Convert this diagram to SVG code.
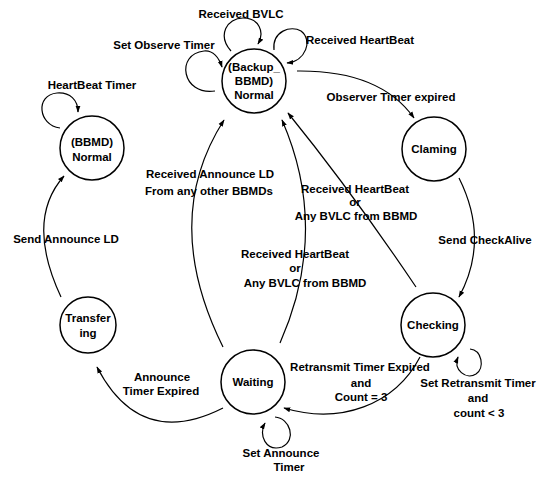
<svg xmlns="http://www.w3.org/2000/svg" width="551" height="477" viewBox="0 0 551 477">
<style>
.n{fill:#fff;stroke:#000;stroke-width:1.5}
.e{fill:none;stroke:#000;stroke-width:1.2;marker-end:url(#a)}
text{font-family:"Liberation Sans",Arial,sans-serif;font-weight:bold;font-size:11.5px;fill:#000;text-anchor:middle}
</style>
<defs>
<marker id="a" viewBox="0 0 10 10" refX="9" refY="5" markerWidth="7" markerHeight="7" markerUnits="userSpaceOnUse" orient="auto">
<path d="M0,1.5 L10,5 L0,8.5 z" fill="#000"/>
</marker>
</defs>
<rect width="551" height="477" fill="#fff"/>
<g id="connectors">
<path class="e" d="M60,128 C38,125 35,95 57,93 C70,92 78,100 78,112"/>
<path class="e" d="M215,91 C182,96 175,54 204,51 C213,50 219,58 222,67"/>
<path class="e" d="M231,51 C217,35 227,18 243,18 C259,18 265,32 258,44"/>
<path class="e" d="M274,50 C272,31 291,25 301,31 C313,40 306,61 287,63"/>
<path class="e" d="M297,71 Q380,70 414,118"/>
<path class="e" d="M459,178 Q490,240 459,297"/>
<path class="e" d="M416,287 Q352,192 288,113"/>
<path class="e" d="M280,343 Q330,230 282,120"/>
<path class="e" d="M223,347 Q160,220 224,120"/>
<path class="e" d="M61,297 Q25,220 64,176"/>
<path class="e" d="M223,408 Q140,450 97,367"/>
<path class="e" d="M420,357 C395,405 340,425 284,408"/>
<path class="e" d="M470,349 C482,350 485,368 476,374 C466,380 453,370 458,357"/>
<path class="e" d="M275,417 C290,418 297,440 282,447 C266,452 258,435 265,423"/>
</g>
<g id="labels">
<text x="241" y="18">Received BVLC</text>
<text x="164" y="49">Set Observe Timer</text>
<text x="360" y="44">Received HeartBeat</text>
<text x="92" y="89">HeartBeat Timer</text>
<text x="391" y="101">Observer Timer expired</text>
<text x="210" y="178">Received Announce LD</text>
<text x="209" y="195">From any other BBMDs</text>
<text x="355" y="193">Received HeartBeat</text>
<text x="355" y="206">or</text>
<text x="356" y="220">Any BVLC from BBMD</text>
<text x="485" y="244">Send CheckAlive</text>
<text x="66" y="243">Send Announce LD</text>
<text x="295" y="258">Received HeartBeat</text>
<text x="295" y="272">or</text>
<text x="305" y="287">Any BVLC from BBMD</text>
<text x="360" y="371">Retransmit Timer Expired</text>
<text x="361" y="387">and</text>
<text x="361" y="401">Count = 3</text>
<text x="162" y="381">Announce</text>
<text x="161" y="395">Timer Expired</text>
<text x="478" y="387">Set Retransmit Timer</text>
<text x="478" y="402">and</text>
<text x="479" y="417">count &lt; 3</text>
<text x="281" y="457">Set Announce</text>
<text x="289" y="471">Timer</text>
</g>
<g id="backup">
<circle class="n" cx="254" cy="81" r="32"/>
<text x="254" y="71">(Backup_</text>
<text x="254" y="85">BBMD)</text>
<text x="254" y="99">Normal</text>
</g>
<g id="bbmd">
<circle class="n" cx="92" cy="148" r="32"/>
<text x="92" y="146">(BBMD)</text>
<text x="92" y="161">Normal</text>
</g>
<g id="claming">
<circle class="n" cx="434" cy="149" r="32"/>
<text x="434" y="153">Claming</text>
</g>
<g id="checking">
<circle class="n" cx="433" cy="325" r="32"/>
<text x="433" y="329">Checking</text>
</g>
<g id="waiting">
<circle class="n" cx="253" cy="382" r="32"/>
<text x="253" y="386">Waiting</text>
</g>
<g id="transfering">
<circle class="n" cx="88" cy="325" r="28"/>
<text x="88" y="322">Transfer</text>
<text x="88" y="337">ing</text>
</g>
</svg>
